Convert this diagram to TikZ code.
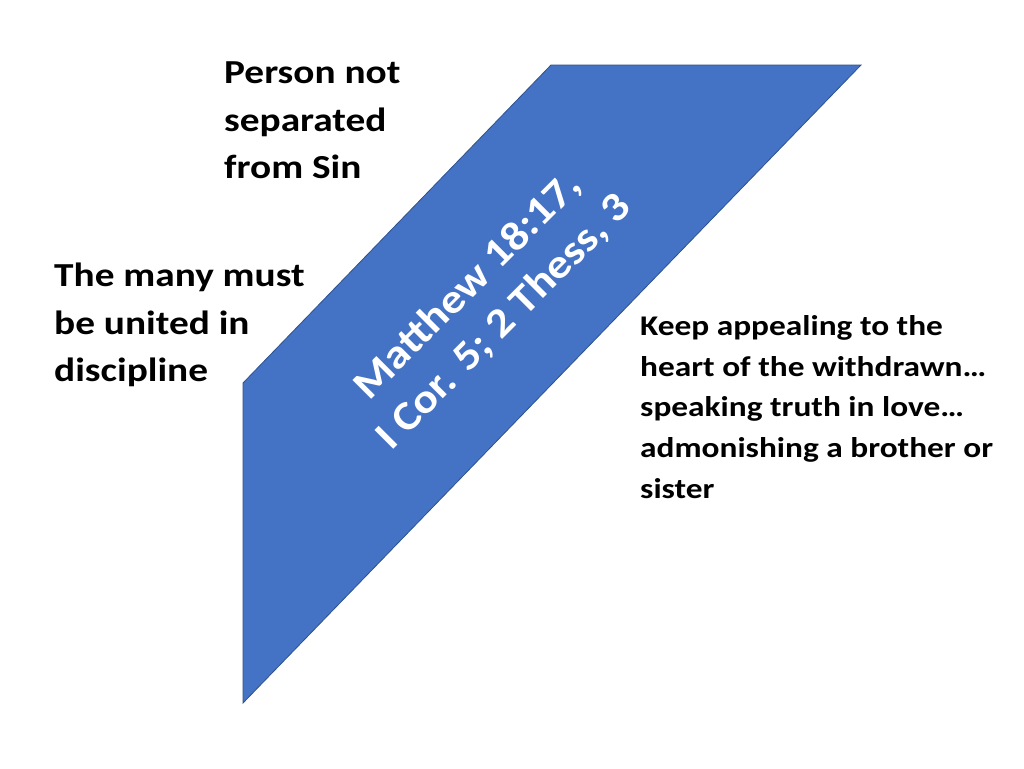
\documentclass[tikz,border=0pt]{standalone}
\usepackage{fontspec}
\setmainfont{Carlito}
\newfontfamily\widefont[FakeStretch=1.17]{Carlito}
\newfontfamily\reffont[FakeStretch=1.12]{Carlito}
\definecolor{bandblue}{HTML}{4472C4}
\definecolor{bandedge}{HTML}{2F528F}
\begin{document}
\begin{tikzpicture}[x=1pt,y=-1pt,
  lbl/.style={inner sep=0pt, align=left, anchor=north west, text=black},
  big/.style={font=\widefont\fontsize{33.6}{47.5}\selectfont\bfseries},
  small/.style={font=\widefont\fontsize{28.5}{40.8}\selectfont\bfseries},
  reftext/.style={inner sep=0pt, align=center, text=white, rotate=45,
    font=\reffont\fontsize{41}{51}\selectfont\bfseries}]
\useasboundingbox[fill=white] (0,0) rectangle (1024,768);
\coordinate (p1) at (243,383);
\coordinate (p2) at (551,65);
\coordinate (p3) at (861,65);
\coordinate (p4) at (243,703);
\draw[fill=bandblue, draw=bandedge, line width=0.8pt] (p1) -- (p2) -- (p3) -- (p4) -- cycle;
\node[reftext] (refs) at (486,304) {Matthew 18:17,\\I Cor. 5; 2 Thess, 3};
\node[lbl, big] (sin) at (224,62) {Person not\\separated\\from Sin};
\node[lbl, big] (many) at (54,263) {The many must\\be united in\\discipline};
\node[lbl, small] (keep) at (640,315) {Keep appealing to the\\heart of the withdrawn…\\speaking truth in love…\\admonishing a brother or\\sister};
\end{tikzpicture}
\end{document}
